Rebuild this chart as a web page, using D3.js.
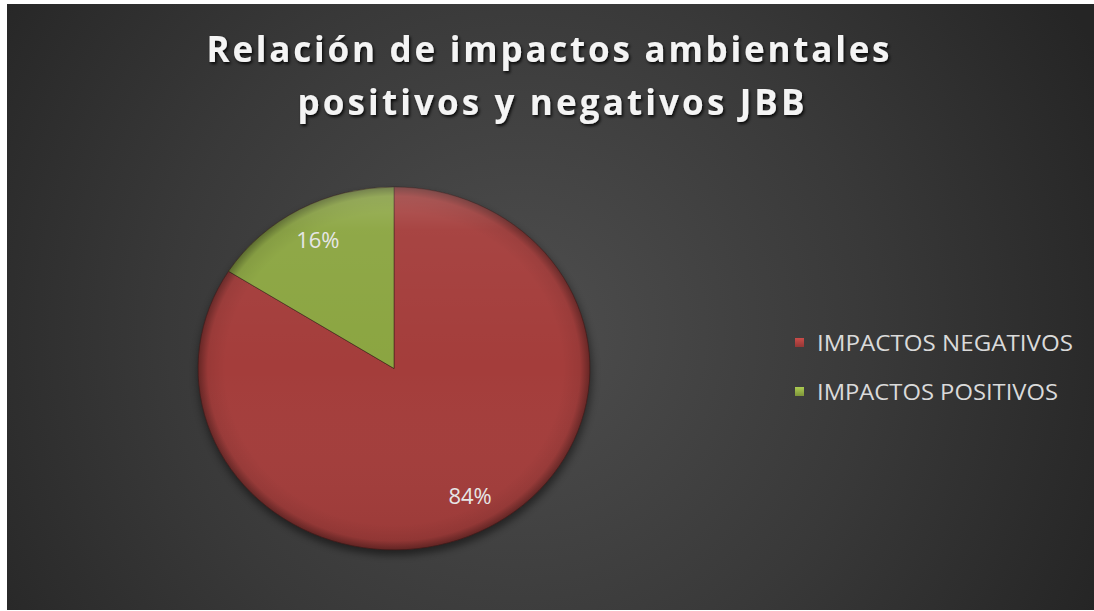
<!DOCTYPE html>
<html>
<head>
<meta charset="utf-8">
<script src="https://cdn.jsdelivr.net/npm/d3@7"></script>
<style>
  html, body { margin: 0; padding: 0; background: #ffffff; }
  svg { display: block; }
</style>
</head>
<body>
<svg id="chart" width="1094" height="611"></svg>
<script>
// Chart data
const categories = ["IMPACTOS NEGATIVOS", "IMPACTOS POSITIVOS"];
const values = [84, 16];
const valueLabels = ["84%", "16%"];
const titleLines = ["Relación de impactos ambientales", "positivos y negativos JBB"];
const colors = ["#a43d3b", "#8ba541"];

const W = 1094, H = 611;
const svg = d3.select("#chart");
const defs = svg.append("defs");

// Background panel with radial shading
const bg = defs.append("radialGradient").attr("id", "bgGrad")
  .attr("gradientUnits", "userSpaceOnUse")
  .attr("cx", 520).attr("cy", 330).attr("r", 640);
bg.append("stop").attr("offset", 0).attr("stop-color", "#4e4e4e");
bg.append("stop").attr("offset", 0.55).attr("stop-color", "#393939");
bg.append("stop").attr("offset", 1).attr("stop-color", "#252525");

svg.append("rect").attr("x", 7).attr("y", 4).attr("width", W - 7).attr("height", H - 5)
  .attr("fill", "url(#bgGrad)");

// Title with drop shadow
const shadow = defs.append("filter").attr("id", "txtShadow")
  .attr("x", "-10%").attr("y", "-30%").attr("width", "120%").attr("height", "160%");
shadow.append("feDropShadow").attr("dx", 1.5).attr("dy", 2).attr("stdDeviation", 1.6)
  .attr("flood-color", "#000").attr("flood-opacity", 0.85);

const titleX = [548, 551];
const titleY = [62, 115];
const titleW = [683, 507];
svg.selectAll("text.title").data(titleLines).join("text")
  .attr("class", "title")
  .attr("x", (d, i) => titleX[i])
  .attr("y", (d, i) => titleY[i])
  .attr("text-anchor", "middle")
  .attr("textLength", (d, i) => titleW[i])
  .attr("lengthAdjust", "spacing")
  .attr("font-family", "'Open Sans', 'DejaVu Sans', sans-serif")
  .attr("font-weight", 700)
  .attr("font-size", 35)
  .attr("fill", "#f4f4f4")
  .attr("filter", "url(#txtShadow)")
  .text(d => d);

// Pie (tilted, so drawn as an ellipse)
const cx = 394, cy = 368.5, R = 196, ry = 181.5;
const sy = ry / R;

const pie = d3.pie().sort(null).value(d => d)
  .startAngle(0).endAngle(2 * Math.PI);
const arcs = pie(values);
const arc = d3.arc().innerRadius(0).outerRadius(R);
const labelArc = d3.arc().innerRadius(158).outerRadius(158);

const pieShadow = defs.append("filter").attr("id", "pieShadow")
  .attr("x", "-20%").attr("y", "-20%").attr("width", "140%").attr("height", "140%");
pieShadow.append("feGaussianBlur").attr("stdDeviation", 4);

// Rim shading to give the slices a bevelled edge
const rim = defs.append("radialGradient").attr("id", "rimGrad")
  .attr("gradientUnits", "userSpaceOnUse")
  .attr("cx", 0).attr("cy", 0).attr("r", R);
rim.append("stop").attr("offset", 0.86).attr("stop-color", "#000").attr("stop-opacity", 0);
rim.append("stop").attr("offset", 0.95).attr("stop-color", "#000").attr("stop-opacity", 0.07);
rim.append("stop").attr("offset", 1).attr("stop-color", "#000").attr("stop-opacity", 0.38);

const hi = defs.append("linearGradient").attr("id", "hiGrad")
  .attr("gradientUnits", "userSpaceOnUse")
  .attr("x1", 0).attr("y1", -R).attr("x2", 0).attr("y2", R);
hi.append("stop").attr("offset", 0).attr("stop-color", "#fff").attr("stop-opacity", 0.18);
hi.append("stop").attr("offset", 0.12).attr("stop-color", "#fff").attr("stop-opacity", 0.04);
hi.append("stop").attr("offset", 0.5).attr("stop-color", "#fff").attr("stop-opacity", 0);
hi.append("stop").attr("offset", 1).attr("stop-color", "#000").attr("stop-opacity", 0.06);

const g = svg.append("g").attr("transform", `translate(${cx},${cy}) scale(1,${sy})`);

g.append("ellipse").attr("cx", 1).attr("cy", 5).attr("rx", R + 1).attr("ry", R + 1)
  .attr("fill", "#000").attr("opacity", 0.45).attr("filter", "url(#pieShadow)");

g.selectAll("path.slice").data(arcs).join("path")
  .attr("class", "slice")
  .attr("d", arc)
  .attr("fill", (d, i) => colors[i])
  .attr("stroke", "#3a1a18")
  .attr("stroke-opacity", 0.55)
  .attr("stroke-width", 1);

g.selectAll("path.rim").data(arcs).join("path")
  .attr("class", "rim")
  .attr("d", arc)
  .attr("fill", "url(#rimGrad)");

g.selectAll("path.hi").data(arcs).join("path")
  .attr("class", "hi")
  .attr("d", arc)
  .attr("fill", "url(#hiGrad)");

// Percentage labels
svg.selectAll("text.val").data(arcs).join("text")
  .attr("class", "val")
  .attr("x", d => cx + labelArc.centroid(d)[0])
  .attr("y", d => cy + labelArc.centroid(d)[1] * sy)
  .attr("dy", "0.35em")
  .attr("text-anchor", "middle")
  .attr("font-family", "'Open Sans', 'DejaVu Sans', sans-serif")
  .attr("font-size", 22)
  .attr("fill", "#e6e6e6")
  .text((d, i) => valueLabels[i]);

// Legend
const legY = [351, 400];
const mk = defs.selectAll("linearGradient.mk").data(colors).join("linearGradient")
  .attr("class", "mk").attr("id", (d, i) => "mk" + i)
  .attr("x1", 0).attr("y1", 0).attr("x2", 0).attr("y2", 1);
mk.append("stop").attr("offset", 0).attr("stop-color", d => d3.color(d).brighter(0.6));
mk.append("stop").attr("offset", 1).attr("stop-color", d => d3.color(d).darker(0.3));

const leg = svg.selectAll("g.leg").data(categories).join("g")
  .attr("class", "leg")
  .attr("transform", (d, i) => `translate(0,${legY[i]})`);
leg.append("rect").attr("x", 795).attr("y", -13).attr("width", 9).attr("height", 9)
  .attr("fill", (d, i) => `url(#mk${i})`);
leg.append("text")
  .attr("x", 817).attr("y", 0)
  .attr("textLength", (d, i) => i === 0 ? 256 : 241)
  .attr("lengthAdjust", "spacingAndGlyphs")
  .attr("font-family", "'Open Sans', 'DejaVu Sans', sans-serif")
  .attr("font-size", 21.5)
  .attr("fill", "#dadada")
  .text(d => d);
</script>
</body>
</html>
